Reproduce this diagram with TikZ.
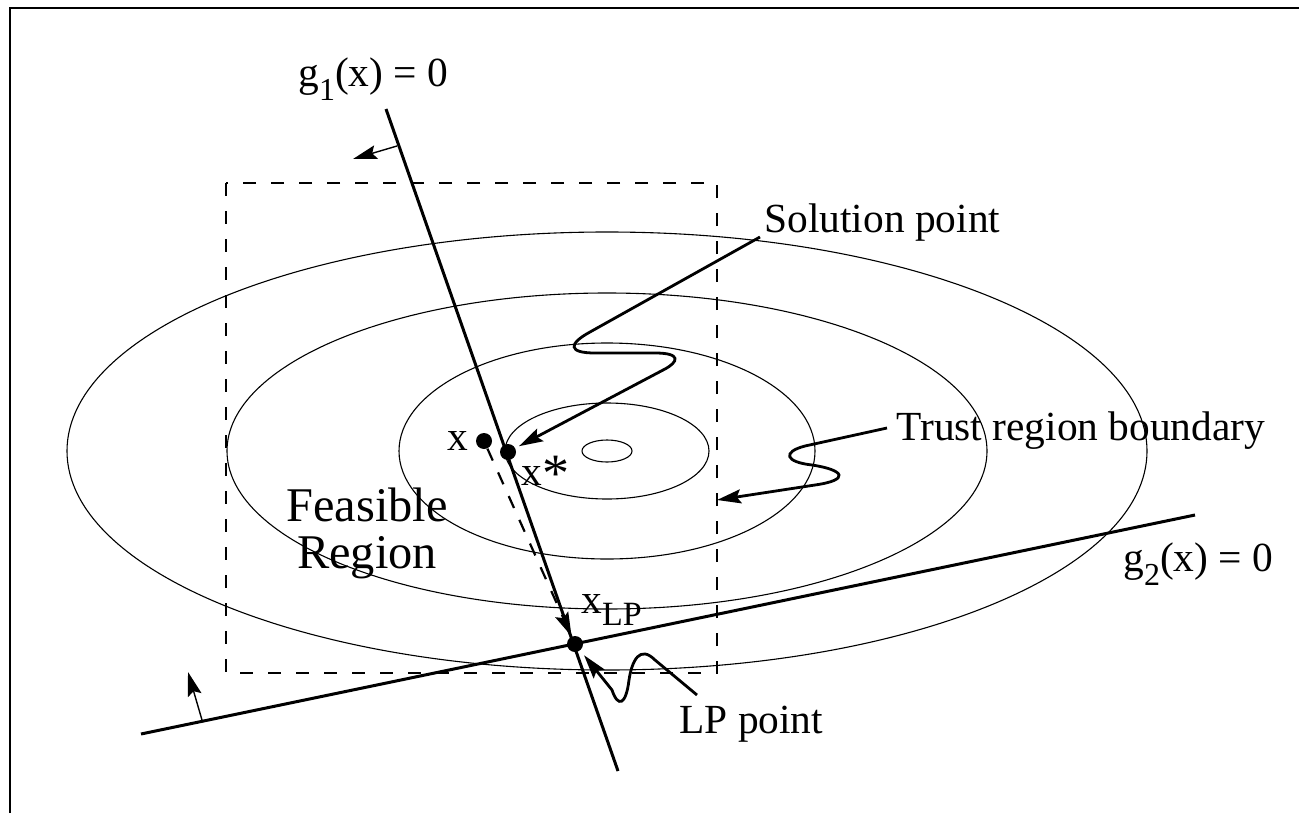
\documentclass[tikz,border=0pt]{standalone}
\usepackage{fontspec}
\setmainfont{Liberation Serif}
\usetikzlibrary{arrows.meta}

\begin{document}
\begin{tikzpicture}[x=0.5pt,y=-0.5pt,
  lbl/.style={font=\fontsize{20.7}{24}\selectfont, inner sep=0pt, anchor=base west},
  dot/.style={circle, fill=black, inner sep=0pt, minimum size=8pt},
  cline/.style={line width=1.5pt},
  contour/.style={line width=0.55pt},
  tip/.style={-{Stealth[length=12pt,width=7pt,inset=2pt]}},
  ptr/.style={tip, line width=1.4pt},
  nrm/.style={tip, line width=0.7pt},
  trust/.style={line width=1.4pt, dash pattern=on 6.5pt off 7.5pt},
  stepline/.style={tip, line width=1.1pt, dash pattern=on 6.5pt off 6.5pt}]
 \useasboundingbox (0,0) rectangle (1299,813);
 \draw[line width=1.2pt] (10,813) -- (10,8) -- (1299,8);
 % objective contours
 \foreach \rx/\ry in {25/11, 102/48, 208/108, 380/158, 540/219}
   \draw[contour] (607,451) ellipse ({\rx} and {\ry});
 % trust region
 \draw[trust] (226,183) rectangle (717,673);
 \coordinate (tr) at (717,500);
 % constraints
 \coordinate (g1a) at (386,109);
 \coordinate (g1b) at (618,771);
 \coordinate (g2a) at (141,734);
 \coordinate (g2b) at (1195,515);
 \draw[cline] (g1a) -- (g1b);
 \draw[cline] (g2a) -- (g2b);
 \coordinate (n1) at (397,146);
 \coordinate (n2) at (202,720);
 \draw[nrm] (n1) -- ++(-44,13);
 \draw[nrm] (n2) -- ++(-14,-48);
 % points
 \node[dot] (xk) at (484,441) {};
 \node[dot] (xs) at (508,452) {};
 \node[dot] (xlp) at (575,644) {};
 \draw[stepline] (xk) -- (xlp);
 % labels
 \node[lbl] (g1l) at (298,87) {g\raisebox{-7pt}{\fontsize{16}{16}\selectfont 1}(x) = 0};
 \node[lbl] (g2l) at (1123,571) {g\raisebox{-7pt}{\fontsize{16}{16}\selectfont 2}(x) = 0};
 \node[lbl] (sol) at (764,232) {Solution point};
 \node[lbl] (trl) at (896,440) {Trust region boundary};
 \node[lbl] (lpl) at (679,733) {LP point};
 \node[lbl] (xkl) at (447,450) {x};
 \node[lbl] (xsl) at (521,485) {x\raisebox{-3pt}{\fontsize{27}{27}\selectfont *}};
 \node[lbl] (xlpl) at (581,613) {x\raisebox{-6pt}{\fontsize{17}{17}\selectfont LP}};
 \node[font=\fontsize{24.2}{23.5}\selectfont, align=center, inner sep=0pt] (feas) at (367,533) {Feasible\\Region};
 % pointers
 \draw[ptr, shorten >=2pt] ([shift={(-4,5)}]sol.base west) -- (590,332)
   .. controls (568,344) and (568,353) .. (595,353) -- (655,353)
   .. controls (682,353) and (678,362) .. (665,369) -- (xs);
 \draw[ptr] ([shift={(-9,-12)}]trl.base west) -- (805,446)
   .. controls (782,452) and (785,462) .. (812,465)
   .. controls (845,470) and (850,480) .. (815,485) -- (tr);
 \draw[ptr, shorten >=3pt] ([shift={(18,-38)}]lpl.base west) -- (655,660)
   .. controls (640,645) and (632,660) .. (629,680)
   .. controls (626,705) and (618,708) .. (612,690) -- (xlp);
\end{tikzpicture}
\end{document}
